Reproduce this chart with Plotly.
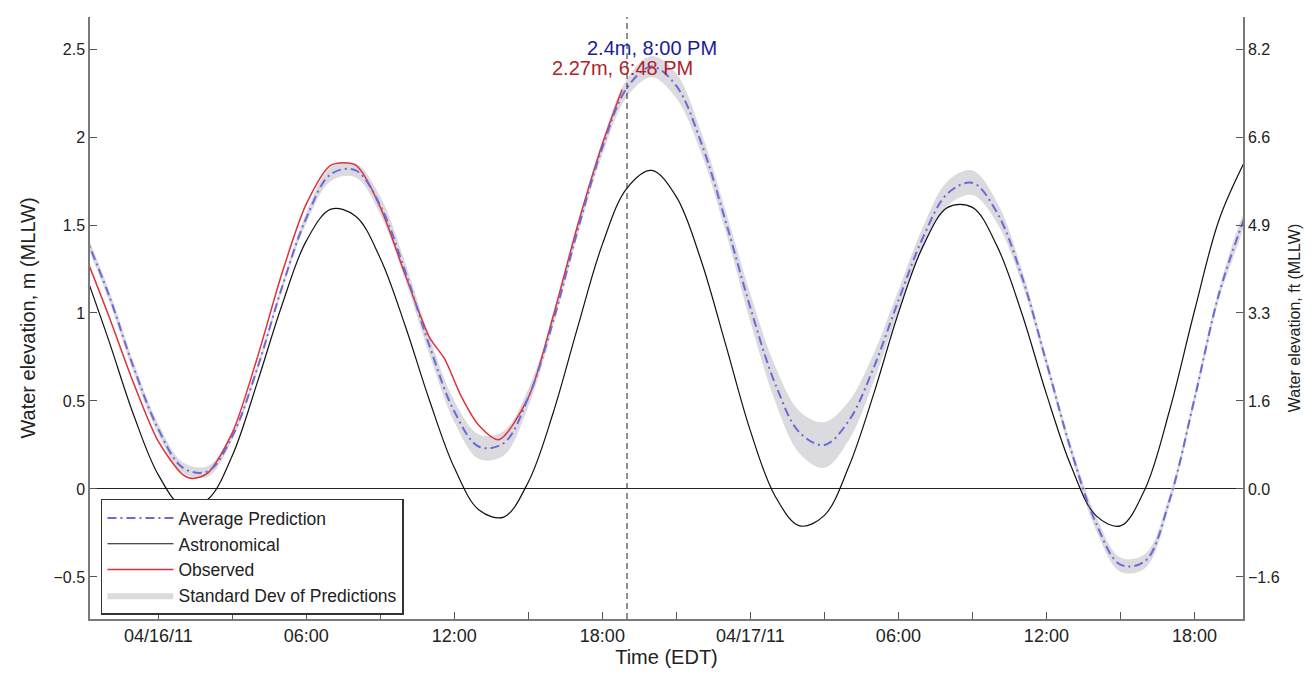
import pandas as pd
import plotly.graph_objects as go

# ---------------- data (hours relative to 04/16/11 00:00 EDT) ----------------
base = pd.Timestamp("2011-04-16 00:00")
hours = list(range(-3, 45))
astronomical = [1.24, 0.84, 0.42, 0.08, -0.10, -0.06, 0.19, 0.60, 1.04, 1.41,
                1.59, 1.55, 1.31, 0.93, 0.50, 0.12, -0.12, -0.16, 0.04, 0.43,
                0.92, 1.39, 1.71, 1.81, 1.66, 1.30, 0.82, 0.33, -0.04, -0.21,
                -0.15, 0.13, 0.54, 1.00, 1.38, 1.60, 1.60, 1.38, 1.00, 0.54,
                0.13, -0.15, -0.21, 0.00, 0.45, 1.01, 1.53, 1.85]
average_pred = [1.45, 1.10, 0.69, 0.34, 0.12, 0.10, 0.30, 0.68, 1.14, 1.54,
                1.79, 1.81, 1.61, 1.24, 0.81, 0.44, 0.24, 0.26, 0.52, 0.95,
                1.47, 1.94, 2.28, 2.40, 2.29, 1.97, 1.52, 1.03, 0.60, 0.32,
                0.25, 0.39, 0.69, 1.07, 1.43, 1.68, 1.74, 1.57, 1.21, 0.72,
                0.22, -0.19, -0.43, -0.41, -0.06, 0.51, 1.11, 1.53]
std_pred = [0.03, 0.03, 0.03, 0.03, 0.03, 0.03, 0.02, 0.02, 0.02, 0.03,
            0.04, 0.04, 0.05, 0.05, 0.05, 0.06, 0.07, 0.07, 0.05, 0.03,
            0.03, 0.04, 0.05, 0.06, 0.07, 0.06, 0.06, 0.08, 0.10, 0.12,
            0.13, 0.11, 0.08, 0.06, 0.06, 0.07, 0.07, 0.06, 0.04, 0.03,
            0.03, 0.04, 0.04, 0.04, 0.03, 0.03, 0.03, 0.03]
obs_hours = [-3, -2, -1, 0, 1, 1.4, 2, 3, 4, 5, 6, 7, 8, 9, 10, 11, 11.6,
             12.3, 13, 13.8, 15, 16, 17, 18, 18.8]
observed = [1.34, 0.98, 0.60, 0.27, 0.08, 0.06, 0.09, 0.32, 0.74, 1.22, 1.62,
            1.84, 1.84, 1.60, 1.22, 0.86, 0.74, 0.52, 0.36, 0.28, 0.52, 0.98,
            1.50, 1.96, 2.27]

tick_hours = [0, 3, 6, 9, 12, 15, 18, 21, 24, 27, 30, 33, 36, 39, 42]
tick_labels = ["04/16/11", "", "06:00", "", "12:00", "", "18:00", "",
               "04/17/11", "", "06:00", "", "12:00", "", "18:00"]
y_ticks_m = [-0.5, 0, 0.5, 1, 1.5, 2, 2.5]
x_range_hours = [-2.77, 43.97]
y_range = [-0.739, 2.682]
now_hour = 19.0
pred_peak = (20.0, 2.4, "2.4m, 8:00 PM")
obs_peak = (18.8, 2.27, "2.27m, 6:48 PM")
M_TO_FT = 3.28084


def t(h):
    return base + pd.to_timedelta(h, unit="h")


x = [t(h) for h in hours]
xo = [t(h) for h in obs_hours]
upper = [a + s for a, s in zip(average_pred, std_pred)]
lower = [a - s for a, s in zip(average_pred, std_pred)]

fig = go.Figure()
fig.add_trace(go.Scatter(
    x=x + x[::-1], y=upper + lower[::-1], fill="toself",
    fillcolor="rgba(205,205,212,0.75)", line=dict(width=0, shape="spline"),
    name="Standard Dev of Predictions", legendrank=4, hoverinfo="skip"))
fig.add_trace(go.Scatter(
    x=x, y=astronomical, mode="lines", name="Astronomical", legendrank=2,
    line=dict(color="#111111", width=1.2, shape="spline")))
fig.add_trace(go.Scatter(
    x=xo, y=observed, mode="lines", name="Observed", legendrank=3,
    line=dict(color="#e0303c", width=1.5, shape="spline", smoothing=0.8)))
fig.add_trace(go.Scatter(
    x=x, y=average_pred, mode="lines", name="Average Prediction", legendrank=1,
    line=dict(color="#6a6ad8", width=2, dash="9px,4px,2px,4px", shape="spline")))
# invisible trace to activate the right (ft) axis
fig.add_trace(go.Scatter(x=[x[0]], y=[0], yaxis="y2", mode="lines",
                         showlegend=False, hoverinfo="skip",
                         line=dict(width=0)))

fig.add_shape(type="line", xref="x", yref="paper", x0=t(now_hour), x1=t(now_hour),
              y0=0, y1=1, line=dict(color="#222222", width=1, dash="6px,4px"))

fig.add_annotation(x=t(pred_peak[0]), y=pred_peak[1], text=pred_peak[2],
                   showarrow=False, yshift=19, font=dict(color="#1c1c96", size=20))
fig.add_annotation(x=t(obs_peak[0]), y=obs_peak[1], text=obs_peak[2],
                   showarrow=False, yshift=22, font=dict(color="#b0242c", size=20))

axis_common = dict(showline=True, linecolor="#7a7a7a", linewidth=1.5,
                   ticks="inside", ticklen=7, tickcolor="#555555",
                   showgrid=False)

fig.update_layout(
    width=1316, height=678,
    margin=dict(l=90, r=73, t=17, b=59),
    paper_bgcolor="white", plot_bgcolor="white",
    font=dict(family="Liberation Sans, Arial, sans-serif", color="#222222"),
    xaxis=dict(range=[t(x_range_hours[0]), t(x_range_hours[1])],
               tickmode="array", tickvals=[t(h) for h in tick_hours],
               ticktext=tick_labels, zeroline=False,
               tickfont=dict(size=18),
               title=dict(text="Time (EDT)", font=dict(size=20), standoff=2),
               **axis_common),
    yaxis=dict(range=y_range, tickmode="array", tickvals=y_ticks_m,
               zeroline=True, zerolinecolor="#222222", zerolinewidth=1,
               tickfont=dict(size=16),
               title=dict(text="Water elevation, m (MLLW)", font=dict(size=20),
                          standoff=12),
               **axis_common),
    yaxis2=dict(range=y_range, overlaying="y", side="right", tickmode="array",
                tickvals=y_ticks_m,
                ticktext=[f"{v * M_TO_FT:.1f}".replace("-", "\u2212") for v in y_ticks_m],
                zeroline=False, tickfont=dict(size=16),
                title=dict(text="Water elevation, ft (MLLW)", font=dict(size=16),
                           standoff=10),
                **axis_common),
    legend=dict(x=0.0095, y=0.2, xanchor="left", yanchor="top",
                bgcolor="white", bordercolor="#333333", borderwidth=1.5,
                font=dict(size=17.5), itemwidth=66, tracegroupgap=0),
    showlegend=True,
)

fig.write_html("out.html")
